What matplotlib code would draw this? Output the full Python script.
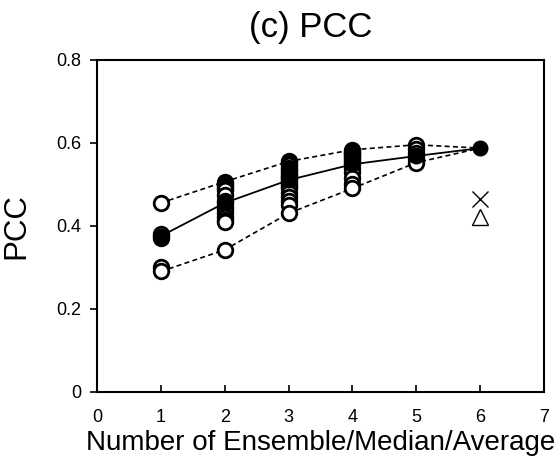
import numpy as np
import matplotlib
matplotlib.use("Agg")
import matplotlib.pyplot as plt

plt.rcParams['font.family'] = ['Liberation Sans', 'DejaVu Sans']

# Individual combination scores per number of ensemble members
x_counts = [1, 2, 3, 4, 5]
scores = {
    1: [0.455, 0.37, 0.375, 0.38, 0.30, 0.29],
    2: [0.506, 0.50, 0.495, 0.49, 0.485, 0.475, 0.46, 0.455, 0.445,
        0.44, 0.43, 0.42, 0.415, 0.41, 0.342],
    3: [0.555, 0.55, 0.546, 0.54, 0.535, 0.53, 0.525, 0.52, 0.518, 0.515,
        0.51, 0.505, 0.50, 0.495, 0.49, 0.48, 0.47, 0.46, 0.45, 0.43],
    4: [0.583, 0.578, 0.575, 0.572, 0.568, 0.565, 0.56, 0.556, 0.552,
        0.548, 0.54, 0.53, 0.515, 0.50, 0.49],
    5: [0.595, 0.585, 0.575, 0.568, 0.56, 0.552],
}
mean_x = [1, 2, 3, 4, 5, 6]
mean_vals = [0.375, 0.455, 0.51, 0.548, 0.568, 0.587]
all_value = 0.587          # all members, x=6
median_value = 0.465       # cross
average_value = 0.42       # triangle
special_x = 6

fig = plt.figure(figsize=(5.54, 4.66), dpi=100)
ax = fig.add_axes([0.175, 0.159, 0.807, 0.713])

max_vals = [max(scores[k]) for k in x_counts] + [all_value]
min_vals = [min(scores[k]) for k in x_counts] + [all_value]

ax.plot(mean_x, max_vals, ls=(0, (3, 2)), color='black', lw=1.2, zorder=2)
ax.plot(mean_x, min_vals, ls=(0, (3, 2)), color='black', lw=1.2, zorder=2)
ax.plot(mean_x, mean_vals, ls='-', color='black', lw=1.3, zorder=2)

for k in x_counts:
    ax.plot([k] * len(scores[k]), scores[k], ls='none', marker='o',
            ms=10.5, mfc='white', mec='black', mew=2, zorder=3)

ax.plot(mean_x, mean_vals, ls='none', marker='o', ms=10.5, mfc='black',
        mec='black', zorder=4)
ax.plot([special_x], [median_value], ls='none', marker='x', ms=11,
        color='black', mew=1.0, zorder=4)
ax.plot([special_x], [average_value], ls='none', marker='^', ms=11,
        mfc='white', mec='black', mew=1.0, zorder=4)

ax.set_xlim(0, 7)
ax.set_ylim(0, 0.8)
ax.set_xticks(range(0, 8))
ax.set_yticks([0, 0.2, 0.4, 0.6, 0.8])
ax.set_yticklabels(['0', '0.2', '0.4', '0.6', '0.8'])
ax.tick_params(axis='x', direction='in', length=5, width=1.2, labelsize=13, pad=12)
ax.tick_params(axis='y', direction='out', length=5, width=1.2, labelsize=13, pad=6)
for s in ax.spines.values():
    s.set_linewidth(1.5)

ax.set_title('(c) PCC', fontsize=25, pad=16, x=0.479)
ax.set_ylabel('PCC', fontsize=22.5, labelpad=18)
ax.set_xlabel('Number of Ensemble/Median/Average', fontsize=20, labelpad=3)

fig.savefig('out.png', dpi=100)
